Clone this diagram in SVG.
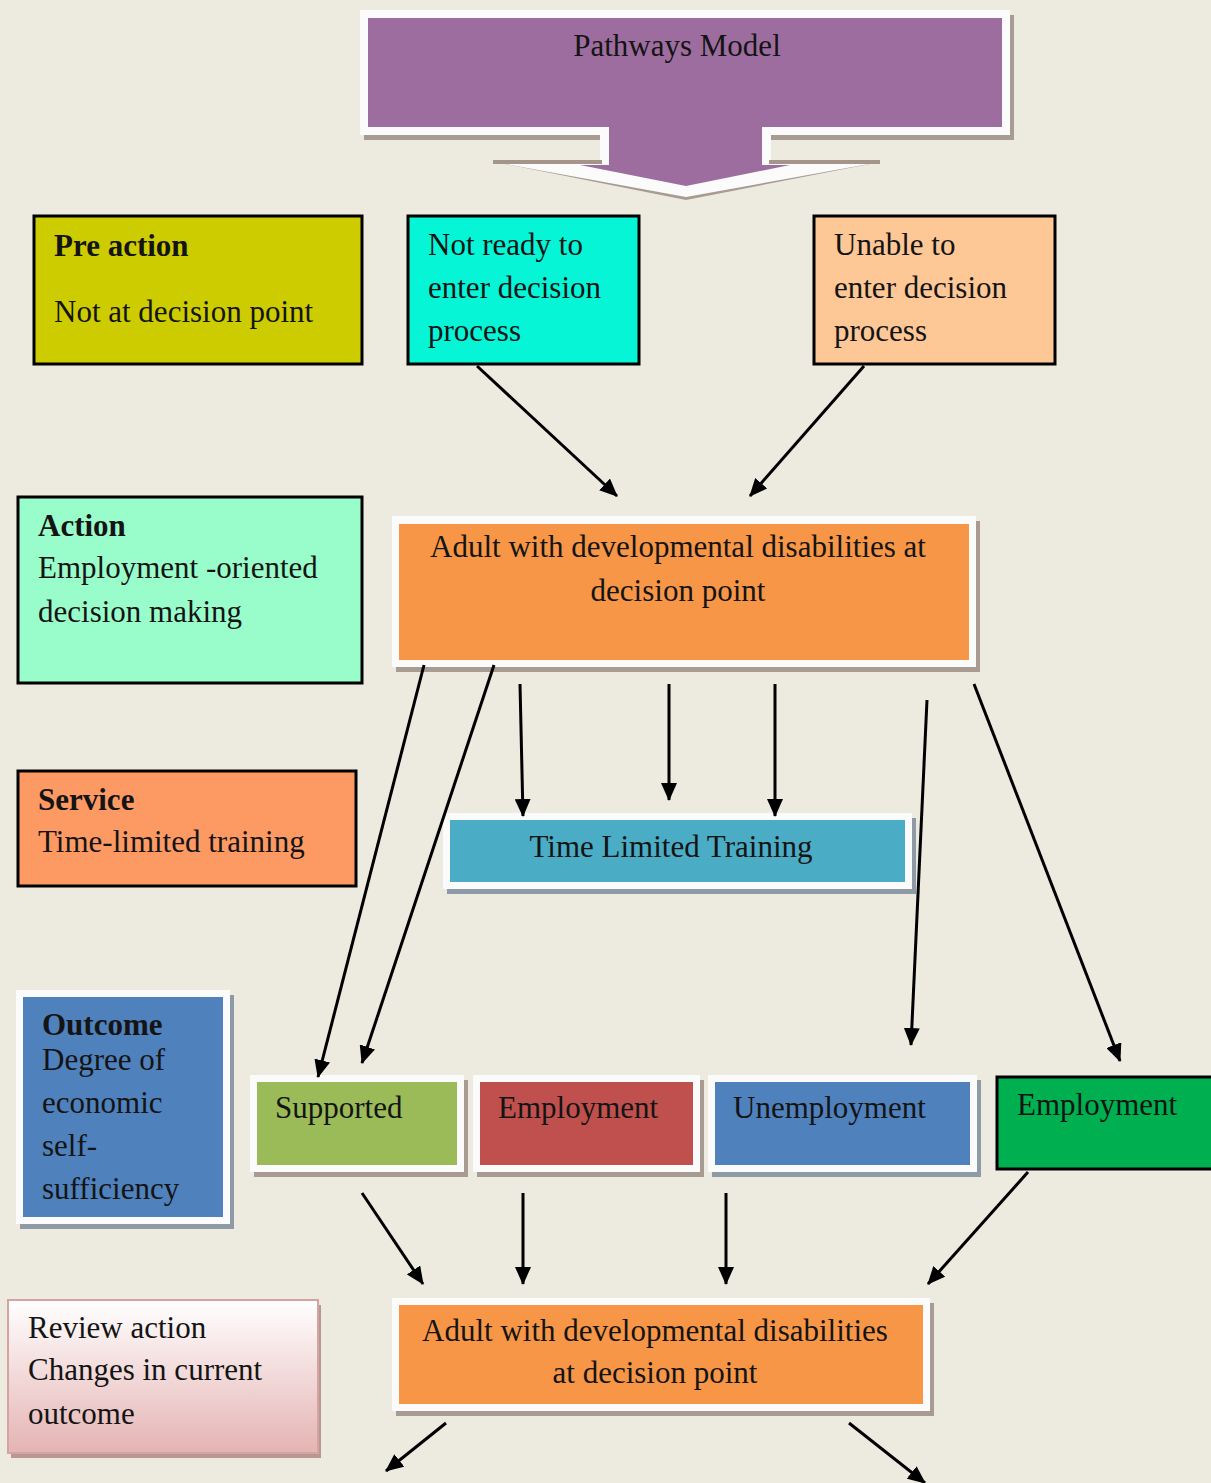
<svg xmlns="http://www.w3.org/2000/svg" width="1211" height="1483" viewBox="0 0 1211 1483">
  <defs>
    <marker id="arrow" markerUnits="userSpaceOnUse" markerWidth="18" markerHeight="16" refX="17" refY="8" orient="auto">
      <path d="M0,0 L18,8 L0,16 Z" fill="#000"/>
    </marker>
    <linearGradient id="reviewFill" x1="0" y1="0" x2="0" y2="1">
      <stop offset="0" stop-color="#ffffff"/>
      <stop offset="1" stop-color="#e5b3b3"/>
    </linearGradient>
    <style>
      text { font-family: "Liberation Serif", "Times New Roman", serif; font-size: 31px; fill: #141414; }
      .b { font-weight: bold; }
      .mid { text-anchor: middle; }
      .boxed { stroke: #000; stroke-width: 3; }
      .frame { fill: #fbfbfb; }
      .shadow { fill: #a89c92; }
      .shadowBlue { fill: #8e9aa6; }
      .conn { stroke: #000; stroke-width: 3; fill: none; marker-end: url(#arrow); }
    </style>
  </defs>

  <rect x="0" y="0" width="1211" height="1483" fill="#edeae0"/>

  <!-- Title: block arrow pointing down -->
  <g id="pathways-model">
    <!-- drop shadow of the banner -->
    <rect x="364" y="15" width="650" height="125" fill="#a89c92"/>
    <!-- white outline: banner, stem and chevron -->
    <rect x="360" y="10" width="650" height="125" fill="#fbfbfb"/>
    <rect x="600" y="130" width="171" height="34" fill="#fbfbfb"/>
    <polygon points="495,162 880,162 686,200" fill="#a89c92"/>
    <polygon points="495,162 880,162 686,197" fill="#fbfbfb"/>
    <path d="M493,162 H602 M769,162 H880" stroke="#a4948a" stroke-width="4" fill="none"/>
    <!-- purple fill -->
    <path d="M368,18 H1002 V127 H762 V165 H790 L686,186 L580,165 H609 V127 H368 Z" fill="#9e6d9f"/>
    <text x="677" y="56" class="mid">Pathways Model</text>
  </g>

  <!-- Stage boxes, first row -->
  <g id="pre-action">
    <rect x="34" y="216" width="328" height="148" fill="#cccc00" class="boxed"/>
    <text x="54" y="256" class="b">Pre action</text>
    <text x="54" y="322">Not at decision point</text>
  </g>
  <g id="not-ready">
    <rect x="408" y="216" width="231" height="148" fill="#05f5d6" class="boxed"/>
    <text x="428" y="255">Not ready to</text>
    <text x="428" y="298">enter decision</text>
    <text x="428" y="341">process</text>
  </g>
  <g id="unable">
    <rect x="814" y="216" width="241" height="148" fill="#fdc796" class="boxed"/>
    <text x="834" y="255">Unable to</text>
    <text x="834" y="298">enter decision</text>
    <text x="834" y="341">process</text>
  </g>

  <g id="action">
    <rect x="18" y="497" width="344" height="186" fill="#99fdcb" class="boxed"/>
    <text x="38" y="536" class="b">Action</text>
    <text x="38" y="578">Employment -oriented</text>
    <text x="38" y="622">decision making</text>
  </g>

  <g id="decision-point-1">
    <rect x="396" y="521" width="584" height="151" class="shadow"/>
    <rect x="392" y="516" width="584" height="151" class="frame"/>
    <rect x="399" y="524" width="570" height="136" fill="#f79646"/>
    <text x="678" y="557" class="mid">Adult with developmental disabilities at</text>
    <text x="678" y="601" class="mid">decision point</text>
  </g>

  <g id="service">
    <rect x="18" y="771" width="338" height="115" fill="#fd9a64" class="boxed"/>
    <text x="38" y="810" class="b">Service</text>
    <text x="38" y="852">Time-limited training</text>
  </g>

  <g id="time-limited-training">
    <rect x="447" y="818" width="469" height="76" class="shadowBlue"/>
    <rect x="443" y="813" width="469" height="76" class="frame"/>
    <rect x="450" y="820" width="455" height="62" fill="#4bacc6"/>
    <text x="671" y="857" class="mid">Time Limited Training</text>
  </g>

  <!-- Outcome row -->
  <g id="outcome">
    <rect x="20" y="995" width="214" height="234" class="shadowBlue"/>
    <rect x="16" y="990" width="214" height="234" class="frame"/>
    <rect x="23" y="997" width="200" height="220" fill="#4f81bd"/>
    <text x="42" y="1035" class="b">Outcome</text>
    <text x="42" y="1070">Degree of</text>
    <text x="42" y="1113">economic</text>
    <text x="42" y="1156">self-</text>
    <text x="42" y="1199">sufficiency</text>
  </g>
  <g id="supported">
    <rect x="254" y="1080" width="214" height="97" class="shadow"/>
    <rect x="250" y="1075" width="214" height="97" class="frame"/>
    <rect x="257" y="1082" width="200" height="83" fill="#9bbb59"/>
    <text x="275" y="1118">Supported</text>
  </g>
  <g id="employment-red">
    <rect x="477" y="1080" width="227" height="97" class="shadow"/>
    <rect x="473" y="1075" width="227" height="97" class="frame"/>
    <rect x="480" y="1082" width="213" height="83" fill="#c0504d"/>
    <text x="498" y="1118">Employment</text>
  </g>
  <g id="unemployment">
    <rect x="712" y="1080" width="269" height="97" class="shadowBlue"/>
    <rect x="708" y="1075" width="269" height="97" class="frame"/>
    <rect x="715" y="1082" width="255" height="83" fill="#4f81bd"/>
    <text x="733" y="1118">Unemployment</text>
  </g>
  <g id="employment-green">
    <rect x="997" y="1077" width="220" height="92" fill="#00b050" class="boxed"/>
    <text x="1017" y="1115">Employment</text>
  </g>

  <!-- Review row -->
  <g id="review-action">
    <rect x="11" y="1305" width="310" height="153" fill="#b89890"/>
    <rect x="8" y="1300" width="310" height="153" fill="url(#reviewFill)" stroke="#d4a3a2" stroke-width="2"/>
    <text x="28" y="1338">Review action</text>
    <text x="28" y="1380">Changes in current</text>
    <text x="28" y="1424">outcome</text>
  </g>
  <g id="decision-point-2">
    <rect x="396" y="1303" width="538" height="113" class="shadow"/>
    <rect x="392" y="1298" width="538" height="113" class="frame"/>
    <rect x="399" y="1305" width="524" height="99" fill="#f79646"/>
    <text x="655" y="1341" class="mid">Adult with developmental disabilities</text>
    <text x="655" y="1383" class="mid">at decision point</text>
  </g>

  <!-- Connectors -->
  <g id="connectors">
    <line x1="477" y1="366" x2="617" y2="496" class="conn"/>
    <line x1="864" y1="366" x2="750" y2="496" class="conn"/>
    <line x1="424" y1="665" x2="318" y2="1077" class="conn"/>
    <line x1="494" y1="665" x2="362" y2="1063" class="conn"/>
    <line x1="520" y1="684" x2="523" y2="816" class="conn"/>
    <line x1="669" y1="684" x2="669" y2="800" class="conn"/>
    <line x1="775" y1="684" x2="775" y2="816" class="conn"/>
    <line x1="927" y1="700" x2="911" y2="1045" class="conn"/>
    <line x1="974" y1="684" x2="1120" y2="1061" class="conn"/>
    <line x1="362" y1="1193" x2="423" y2="1284" class="conn"/>
    <line x1="523" y1="1193" x2="523" y2="1284" class="conn"/>
    <line x1="726" y1="1193" x2="726" y2="1284" class="conn"/>
    <line x1="1028" y1="1172" x2="928" y2="1284" class="conn"/>
    <line x1="446" y1="1423" x2="386" y2="1471" class="conn"/>
    <line x1="849" y1="1423" x2="925" y2="1483" class="conn"/>
  </g>
</svg>
